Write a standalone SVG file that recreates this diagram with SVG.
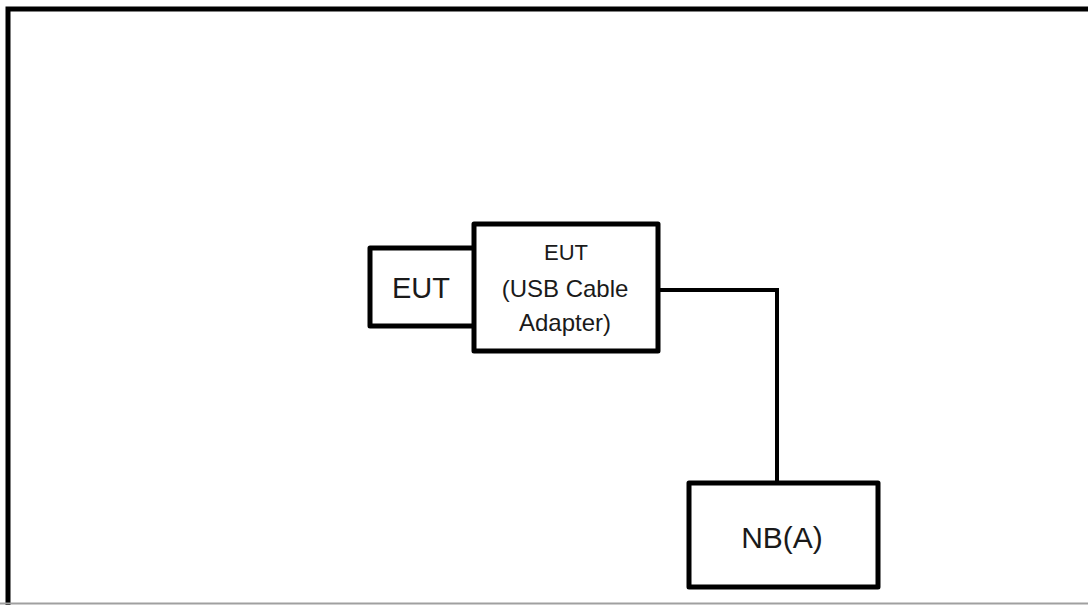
<svg xmlns="http://www.w3.org/2000/svg" width="1088" height="605" viewBox="0 0 1088 605">
<style>
.box{fill:#fff;stroke:#000;stroke-width:5;stroke-linejoin:round}
.wire{fill:none;stroke:#000;stroke-width:4}
text{font-family:"Liberation Sans",Arial,sans-serif;fill:#1a1a1a;text-anchor:middle}
</style>
<rect x="0" y="0" width="1088" height="605" fill="#fff"/>
<g id="frame">
<path d="M8,605 V9 H1088" fill="none" stroke="#000" stroke-width="5"/>
<line x1="0" y1="603.5" x2="1088" y2="603.5" stroke="#a0a0a0" stroke-width="2"/>
</g>
<g id="connectors">
<path class="wire" d="M658,290 H777 V483"/>
</g>
<g id="eut">
<rect class="box" x="370" y="248" width="110" height="78"/>
<text x="421" y="298" font-size="29">EUT</text>
</g>
<g id="adapter">
<rect class="box" x="474" y="224" width="184" height="127"/>
<text x="566" y="260" font-size="22">EUT</text>
<text x="565" y="297" font-size="24">(USB Cable</text>
<text x="565" y="331" font-size="24">Adapter)</text>
</g>
<g id="nb">
<rect class="box" x="689" y="483" width="189" height="104"/>
<text x="782" y="548" font-size="30">NB(A)</text>
</g>
</svg>
